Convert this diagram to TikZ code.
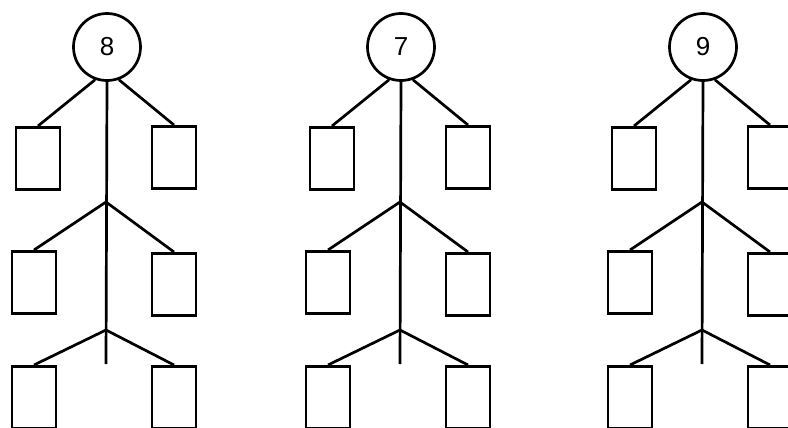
\documentclass[tikz,border=0pt]{standalone}
\usepackage{fontspec}
\setmainfont{Liberation Sans}
\usetikzlibrary{positioning}

\begin{document}
\begin{tikzpicture}[
    x=1pt, y=-1pt,
    head/.style={circle, draw, line width=2.7pt, minimum size=67pt,
                 inner sep=0pt, font=\fontsize{26}{26}\selectfont},
    slot/.style={rectangle, draw, line width=2.7pt, minimum width=44pt,
                 minimum height=62pt, anchor=north},
    limb/.style={line width=2.7pt}
]
\useasboundingbox (0,0) rectangle (788,428);

\foreach \x/\d in {106/8, 400/7, 702/9} {
    % Head
    \node[head] (head\d) at (\x+1,47) {\d};

    % Boxes
    \node[slot] (lefta\d)  at (\x-68,126) {};
    \node[slot] (righta\d) at (\x+68,125) {};
    \node[slot] (leftb\d)  at (\x-72,250) {};
    \node[slot] (rightb\d) at (\x+68,252) {};
    \node[slot] (leftc\d)  at (\x-72,365) {};
    \node[slot] (rightc\d) at (\x+68,365) {};

    % Trunk
    \coordinate (forkb\d) at (\x,202);
    \coordinate (forkc\d) at (\x,330);
    \coordinate (foot\d) at (\x,364);
    \draw[limb] (head\d.south) -- (foot\d);

    % Arms
    \draw[limb] (head\d.250) -- (lefta\d.north);
    \draw[limb] (head\d.290) -- (righta\d.north);
    \draw[limb] (leftb\d.north) -- (forkb\d) -- (rightb\d.north);
    \draw[limb] (leftc\d.north) -- (forkc\d) -- (rightc\d.north);
}

\end{tikzpicture}
\end{document}
